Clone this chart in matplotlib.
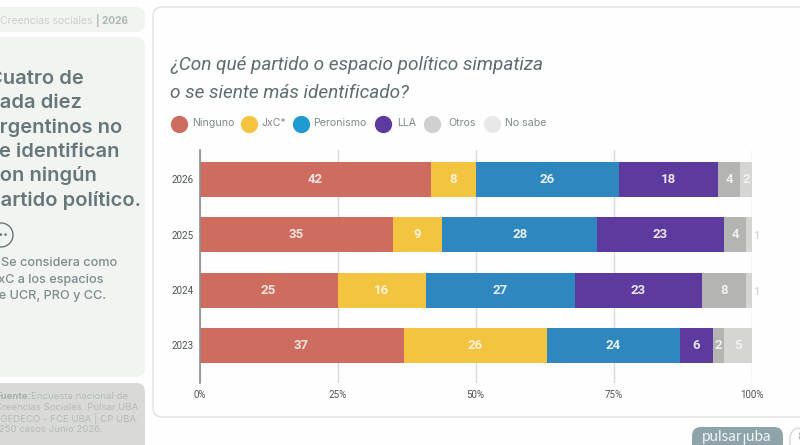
#!/usr/bin/env python3

import numpy as np
import matplotlib
matplotlib.use("Agg")
import matplotlib.pyplot as plt
from matplotlib.patches import FancyBboxPatch

years = ["2026", "2025", "2024", "2023"]
parties = ["Ninguno", "JxC*", "Peronismo", "LLA", "Otros", "No sabe"]
ninguno = [42, 35, 25, 37]
jxc = [8, 9, 16, 26]
peronismo = [26, 28, 27, 24]
lla = [18, 23, 23, 6]
otros = [4, 4, 8, 2]
no_sabe = [2, 1, 1, 5]
x_ticks = [0, 25, 50, 75, 100]
colors = ["#cf6c60", "#f2c440", "#2f87c0", "#5c3a9e", "#b4b5b2", "#d5d6d4"]
label_colors = ["#f6e4e0", "#fbf3d8", "#e6f0f7", "#ece6f5", "#eeeeec", "#f1f1ef"]
legend_colors = ["#cf6c60", "#f5c33f", "#1f9bd1", "#5c3a9e", "#d0d1cf", "#e8e9e7"]
legend_x = [179, 249, 301, 383, 432, 492]
legend_text_x = [192, 262, 313, 397, 448, 505]

headline = ["Cuatro de", "cada diez", "argentinos no", "se identifican", "con ningún", "partido político."]
note = ["* Se considera como", "JxC a los espacios", "de UCR, PRO y CC."]
source = ["Encuesta nacional de", "Creencias Sociales. Pulsar.UBA", "IIGEDECO - FCE UBA | CP UBA.", "1250 casos Junio 2026."]

plt.rcParams["font.family"] = ["Inter", "DejaVu Sans"]

fig = plt.figure(figsize=(8, 4.45), dpi=100, facecolor="#fefefe")

# background panels, in pixel coordinates
bg = fig.add_axes([0, 0, 1, 1])
bg.set_xlim(0, 800)
bg.set_ylim(445, 0)
bg.axis("off")


def panel(x, y, w, h, face, edge="none", r=9):
    bg.add_patch(FancyBboxPatch((x + r, y + r), w - 2 * r, h - 2 * r,
                                boxstyle="round,pad=%d" % r, fc=face, ec=edge, lw=1))


panel(-20, 7, 165, 25, "#f2f4f1")
panel(-20, 37, 165, 340, "#f2f4f1")
panel(-20, 383, 165, 70, "#d9dad8")
panel(153, 7, 670, 410, "#fefefe", edge="#dfe2df")
panel(692, 427, 91, 30, "#8fa3ab", r=9)
panel(790, 428, 40, 30, "#fefefe", edge="#d5d8d5", r=11)

bg.text(0, 20.5, "Creencias sociales", fontsize=7.5, color="#c9d1cc", va="center")
bg.text(128, 20.5, "| 2026", fontsize=7.3, color="#aeb8b3", va="center", ha="right", fontweight="bold")

for i, line in enumerate(headline):
    bg.text(-12, 79 + i * 24.2, line, fontsize=14.5, fontweight="semibold", color="#66777a", va="center")

bg.add_patch(plt.Circle((1, 235), 12, fc="none", ec="#66777a", lw=1))
bg.text(1, 234, "•••", fontsize=6, color="#66777a", ha="center", va="center")

for i, line in enumerate(note):
    bg.text(-9, 263.5 + i * 16, line, fontsize=9.1, fontweight="medium", color="#7d8c8c", va="center")

bg.text(-4.5, 396.7, "Fuente:", fontsize=6.9, fontweight="bold", color="#a6afab", va="center")
for i, line in enumerate(source):
    left = 31 if i == 0 else -5
    bg.text(left, 396.7 + i * 11.1, line, fontsize=6.9, color="#b4bbb7", va="center")

bg.text(170, 65, "¿Con qué partido o espacio político simpatiza", fontsize=13.7, style="italic",
        color="#5e6c70", va="center", family="Roboto")
bg.text(170, 92.5, "o se siente más identificado?", fontsize=13.7, style="italic",
        color="#5e6c70", va="center", family="Roboto")

for name, c, cx, tx in zip(parties, legend_colors, legend_x, legend_text_x):
    bg.scatter([cx], [123.7], s=155, color=c, linewidths=0)
    bg.text(tx, 123.5, name, fontsize=7.6, color="#7e8a8a", va="center")

bg.text(742, 437, "pulsar", fontsize=11, color="#f0f3f3", ha="right", va="center", family="Lato")
bg.plot([744, 744], [434, 445], color="#f0f3f3", lw=1)
bg.text(746, 437, "uba", fontsize=11, color="#f0f3f3", ha="left", va="center", family="Lato")
bg.text(797, 437, "8", fontsize=8, color="#a5b0b0", va="center")

# the chart itself
ax = fig.add_axes([199.5 / 800, 1 - 383 / 445, 552 / 800, 233 / 445], facecolor="none")
series = [ninguno, jxc, peronismo, lla, otros, no_sabe]
ypos = np.arange(len(years))
left = np.zeros(len(years))
for k, vals in enumerate(series):
    ax.barh(ypos, vals, left=left, height=0.633, color=colors[k], zorder=2)
    for j, v in enumerate(vals):
        if v == 1:
            ax.text(left[j] + v + 0.9, j + 0.03, str(v), color="#d8dad8", fontsize=8,
                    ha="center", va="center", fontweight="bold", family="Roboto")
        else:
            ax.text(left[j] + v / 2, j, str(v), color=label_colors[k], fontsize=9.5,
                    ha="center", va="center", fontweight="bold", family="Roboto")
    left = left + np.array(vals)

ax.set_xlim(0, 100)
ax.set_ylim(3.678, -0.533)
ax.set_yticks(ypos, years, family="Roboto")
ax.set_xticks(x_ticks, ["%d%%" % t for t in x_ticks], family="Roboto")
ax.tick_params(axis="both", length=0, labelsize=7, labelcolor="#4d5355")
ax.tick_params(axis="x", pad=5)
ax.tick_params(axis="y", pad=4)
ax.grid(axis="x", color="#d8dad8", lw=1, zorder=0)
for s in ["top", "right", "bottom"]:
    ax.spines[s].set_visible(False)
ax.spines["left"].set_color("#8b8f90")
ax.spines["left"].set_linewidth(1.2)
ax.spines["left"].set_zorder(3)

fig.savefig("out.png", dpi=100)
